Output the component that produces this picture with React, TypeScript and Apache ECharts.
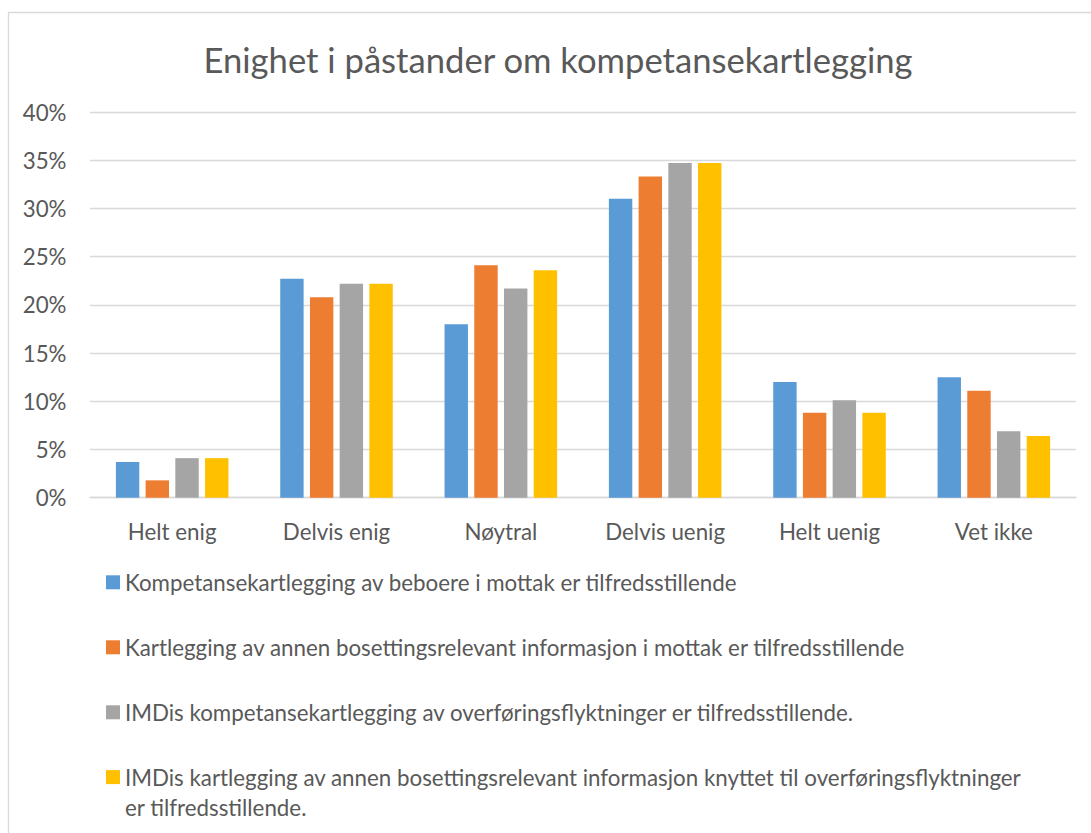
import React, { useEffect, useRef } from "react";
import * as echarts from "echarts";

const TITLE = "Enighet i påstander om kompetansekartlegging";
const categories = ["Helt enig", "Delvis enig", "Nøytral", "Delvis uenig", "Helt uenig", "Vet ikke"];
const seriesNames = [
  "Kompetansekartlegging av beboere i mottak er tilfredsstillende",
  "Kartlegging av annen bosettingsrelevant informasjon i mottak er tilfredsstillende",
  "IMDis kompetansekartlegging av overføringsflyktninger er tilfredsstillende.",
  "IMDis kartlegging av annen bosettingsrelevant informasjon knyttet til overføringsflyktninger er tilfredsstillende.",
];
const beboere = [3.7, 22.7, 18.0, 31.0, 12.0, 12.5];
const annenMottak = [1.8, 20.8, 24.1, 33.3, 8.8, 11.1];
const imdiKompetanse = [4.1, 22.2, 21.7, 34.7, 10.1, 6.9];
const imdiAnnen = [4.1, 22.2, 23.6, 34.7, 8.8, 6.4];
const yTicks = [0, 5, 10, 15, 20, 25, 30, 35, 40];
const colors = ["#5B9BD5", "#ED7D31", "#A5A5A5", "#FFC000"];

const FONT = "Lato";
const TEXT = "#595959";

function fitSize(text: string, target: number): number {
  const ctx = document.createElement("canvas").getContext("2d");
  if (!ctx) return 20;
  ctx.font = `100px ${FONT}`;
  const w = ctx.measureText(text).width;
  return (100 * target) / w;
}

export default function App() {
  const ref = useRef<HTMLDivElement>(null);
  useEffect(() => {
    if (!ref.current) return;
    const chart = echarts.init(ref.current, null, { renderer: "svg" });
    const T = fitSize(TITLE, 710);
    const S = fitSize(seriesNames[0], 613);
    const axisY = 497.7;
    const lh = 30;
    const allData = [beboere, annenMottak, imdiKompetanse, imdiAnnen];
    const breakName = (n: string) => "\n" + n.replace(" er tilfredsstillende.", "\ner tilfredsstillende.");
    chart.setOption({
      animation: false,
      textStyle: { fontFamily: FONT, color: TEXT },
      title: {
        text: TITLE,
        left: 558,
        textAlign: "center",
        top: 59.5 - T / 2,
        padding: 0,
        textStyle: { fontFamily: FONT, fontSize: T, fontWeight: "normal", color: TEXT },
      },
      graphic: [
        {
          type: "rect",
          z: -10,
          shape: { x: 8.5, y: 12.5, width: 1200, height: 1000 },
          style: { fill: "none", stroke: "#d9d9d9", lineWidth: 1.3 },
        },
      ],
      grid: { left: 90, right: 15, top: 112, bottom: 833 - axisY, containLabel: false },
      xAxis: {
        type: "category",
        data: categories,
        axisLine: { lineStyle: { color: "#d9d9d9", width: 1.3 } },
        axisTick: { show: false },
        axisLabel: { fontSize: S, color: TEXT, fontFamily: FONT, margin: 532 - axisY - S / 2 },
      },
      yAxis: {
        type: "value",
        min: yTicks[0],
        max: yTicks[yTicks.length - 1],
        interval: 5,
        axisLine: { show: false },
        axisTick: { show: false },
        splitLine: { lineStyle: { color: "#d9d9d9", width: 1.3 } },
        axisLabel: { fontSize: S, color: TEXT, fontFamily: FONT, margin: 23.5, formatter: (v: number) => `${v}%` },
      },
      legend: [
        {
          orient: "vertical",
          left: 106,
          top: 582.3 - lh / 2,
          padding: 0,
          itemGap: 65 - lh,
          itemWidth: 14,
          itemHeight: 14,
          icon: "rect",
          data: seriesNames.slice(0, 3),
          textStyle: { fontSize: S, color: TEXT, fontFamily: FONT, lineHeight: lh },
        },
        {
          orient: "vertical",
          left: 106,
          top: 777.1 - (lh * 3) / 2,
          padding: 0,
          itemWidth: 14,
          itemHeight: 14,
          icon: "rect",
          data: [seriesNames[3]],
          formatter: breakName,
          textStyle: { fontSize: S, color: TEXT, fontFamily: FONT, lineHeight: lh },
        },
      ],
      series: seriesNames.map((name, i) => ({
        name,
        type: "bar",
        data: allData[i],
        barWidth: 23.4,
        barGap: "27%",
        itemStyle: { color: colors[i] },
      })),
    });
    return () => chart.dispose();
  }, []);
  return <div ref={ref} style={{ position: "fixed", left: 0, top: 0, width: 1091, height: 833, background: "#fff" }} />;
}
